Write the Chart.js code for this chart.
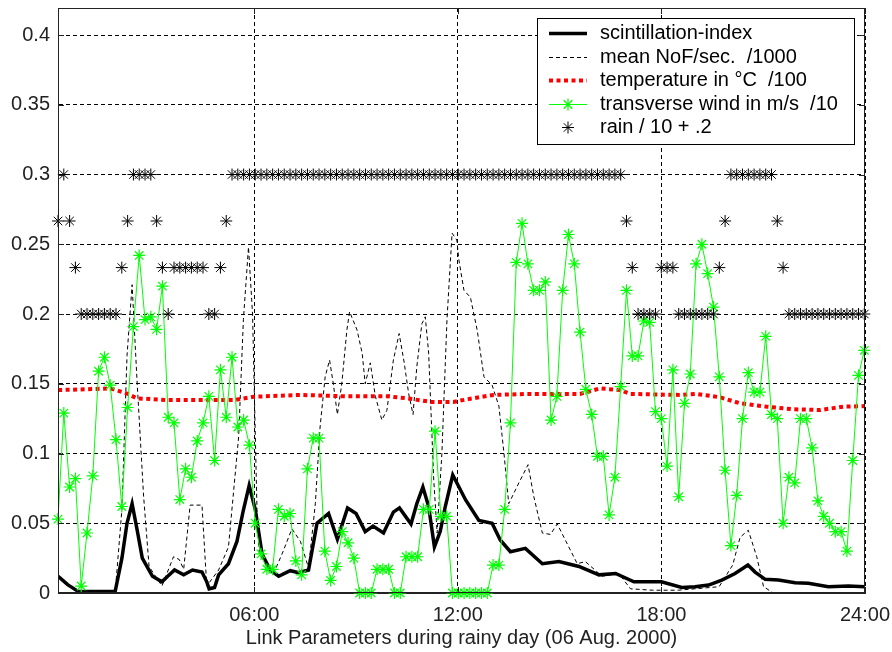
<!DOCTYPE html>
<html>
<head>
<meta charset="utf-8">
<title>Link Parameters during rainy day</title>
<script src="https://cdn.jsdelivr.net/npm/chart.js@4/dist/chart.umd.min.js"></script>
<style>
  html, body { margin: 0; padding: 0; background: #fff; }
  #wrap { width: 892px; height: 652px; }
</style>
</head>
<body>
<div id="wrap"><canvas id="linkChart" width="892" height="652"></canvas></div>
<script>
// time axis (hours of the day)
const dayStart = 0.216;
const dayEnd = 24;
const xTickValues = [6, 12, 18, 24];
const xTickLabels = ['06:00', '12:00', '18:00', '24:00'];
const yTickValues = [0, 0.05, 0.1, 0.15, 0.2, 0.25, 0.3, 0.35, 0.4];
const yTickLabels = ['0', '0.05', '0.1', '0.15', '0.2', '0.25', '0.3', '0.35', '0.4'];

// wind and rain are sampled on the same ~10 min grid
const sampleFirst = 0.216;
const sampleLast = 23.98;

// transverse wind in m/s, already divided by 10
const windScaled = [
  0.053, 0.129, 0.076, 0.082, 0.005, 0.043, 0.084, 0.159, 0.169, 0.149,
  0.110, 0.062, 0.133, 0.191, 0.242, 0.196, 0.198, 0.189, 0.220, 0.126,
  0.122, 0.067, 0.089, 0.083, 0.109, 0.122, 0.141, 0.095, 0.160, 0.126,
  0.169, 0.119, 0.124, 0.106, 0.050, 0.028, 0.017, 0.017, 0.060, 0.055,
  0.057, 0.023, 0.013, 0.089, 0.111, 0.111, 0.030, 0.009, 0.019, 0.044,
  0.036, 0.025, 0, 0, 0, 0.017, 0.017, 0.017, 0, 0,
  0.026, 0.026, 0.026, 0.060, 0.060, 0.116, 0.055, 0.055, 0, 0,
  0, 0, 0, 0, 0, 0.020, 0.020, 0.060, 0.122, 0.237,
  0.265, 0.236, 0.217, 0.217, 0.223, 0.124, 0.141, 0.217, 0.257, 0.236,
  0.187, 0.146, 0.128, 0.098, 0.098, 0.056, 0.083, 0.148, 0.217, 0.170,
  0.170, 0.195, 0.194, 0.130, 0.125, 0.091, 0.160, 0.069, 0.136, 0.157,
  0.236, 0.250, 0.229, 0.205, 0.155, 0.088, 0.034, 0.070, 0.125, 0.158,
  0.144, 0.144, 0.184, 0.128, 0.125, 0.050, 0.083, 0.079, 0.125, 0.125,
  0.104, 0.066, 0.055, 0.050, 0.044, 0.044, 0.030, 0.095, 0.156, 0.174
];

// rain in mm per sample (plotted as rain / 10 + .2)
const rainMm = [
  0.667, 1, 0.667, 0.333, 0, 0, 0, 0, 0, 0,
  0, 0.333, 0.667, 1, 1, 1, 1, 0.667, 0.333, 0,
  0.333, 0.333, 0.333, 0.333, 0.333, 0.333, 0, 0, 0.333, 0.667,
  1, 1, 1, 1, 1, 1, 1, 1, 1, 1,
  1, 1, 1, 1, 1, 1, 1, 1, 1, 1,
  1, 1, 1, 1, 1, 1, 1, 1, 1, 1,
  1, 1, 1, 1, 1, 1, 1, 1, 1, 1,
  1, 1, 1, 1, 1, 1, 1, 1, 1, 1,
  1, 1, 1, 1, 1, 1, 1, 1, 1, 1,
  1, 1, 1, 1, 1, 1, 1, 1, 0.667, 0.333,
  0, 0, 0, 0, 0.333, 0.333, 0.333, 0, 0, 0,
  0, 0, 0, 0, 0.333, 0.667, 1, 1, 1, 1,
  1, 1, 1, 1, 0.667, 0.333, 0, 0, 0, 0,
  0, 0, 0, 0, 0, 0, 0, 0, 0, 0
];

// scintillation index
const scintTimes = [
  0.22, 0.5, 0.82, 1.9, 2.1, 2.25, 2.4, 2.55, 2.7, 3.0,
  3.28, 3.45, 3.65, 3.92, 4.18, 4.46, 4.6, 4.67, 4.83, 4.95,
  5.24, 5.49, 5.68, 5.85, 6.03, 6.23, 6.47, 6.72, 7.06, 7.31,
  7.6, 7.85, 8.19, 8.45, 8.75, 9.0, 9.27, 9.5, 9.81, 10.1,
  10.28, 10.62, 10.79, 10.97, 11.14, 11.31, 11.48, 11.63, 11.85, 12.23,
  12.62, 13.01, 13.25, 13.55, 13.99, 14.49, 14.98, 15.57, 16.16, 16.65,
  17.19, 17.63, 18.0, 18.6, 18.99, 19.39, 19.78, 20.17, 20.55, 20.76,
  21.06, 21.45, 21.94, 22.33, 22.92, 23.51, 24.0
];
const scintValues = [
  0.012, 0.006, 0.001, 0.001, 0.025, 0.05, 0.064, 0.045, 0.025, 0.012,
  0.008, 0.012, 0.0165, 0.013, 0.0165, 0.015, 0.008, 0.003, 0.004, 0.013,
  0.021, 0.037, 0.0595, 0.077, 0.06, 0.028, 0.0165, 0.012, 0.016, 0.0146,
  0.0165, 0.05, 0.057, 0.0385, 0.061, 0.057, 0.044, 0.048, 0.043, 0.058,
  0.061, 0.0495, 0.064, 0.076, 0.062, 0.033, 0.044, 0.062, 0.0846, 0.0667,
  0.052, 0.05, 0.038, 0.0296, 0.032, 0.021, 0.0225, 0.019, 0.013, 0.014,
  0.008, 0.008, 0.008, 0.004, 0.0045, 0.0057, 0.0093, 0.014, 0.02, 0.015,
  0.0098, 0.0093, 0.0074, 0.007, 0.0045, 0.005, 0.0045
];

// mean number of fades per second, already divided by 1000
const nofTimes = [
  0.22, 1.9, 2.1, 2.25, 2.4, 2.55, 2.74, 2.9, 3.28, 3.62,
  3.79, 3.92, 4.11, 4.46, 4.6, 4.95, 5.24, 5.54, 5.68, 5.83,
  5.95, 6.08, 6.15, 6.45, 6.57, 6.82, 7.11, 7.36, 7.6, 7.8,
  7.94, 8.09, 8.22, 8.33, 8.45, 8.58, 8.73, 8.81, 9.03, 9.18,
  9.27, 9.42, 9.57, 9.76, 9.91, 10.1, 10.27, 10.42, 10.55, 10.68,
  10.79, 10.94, 11.04, 11.14, 11.29, 11.39, 11.53, 11.68, 11.83, 11.97,
  12.03, 12.18, 12.37, 12.57, 12.77, 13.01, 13.21, 13.36, 13.5, 13.8,
  14.07, 14.24, 14.49, 14.73, 14.93, 15.27, 15.52, 15.76, 16.25, 16.74,
  17.09, 17.73, 18.5, 19.7, 20.1, 20.32, 20.56, 20.81, 21.01, 21.3,
  24.0
];
const nofScaled = [
  0, 0, 0.06, 0.17, 0.221, 0.15, 0.069, 0.019, 0.005, 0.026,
  0.024, 0.017, 0.063, 0.063, 0.005, 0.0165, 0.033, 0.112, 0.196, 0.248,
  0.2, 0.06, 0.028, 0.0165, 0.014, 0.028, 0.046, 0.037, 0.018, 0.064,
  0.119, 0.155, 0.167, 0.15, 0.128, 0.15, 0.1885, 0.2017, 0.1885, 0.172,
  0.15, 0.165, 0.141, 0.124, 0.131, 0.167, 0.186, 0.165, 0.143, 0.128,
  0.162, 0.193, 0.198, 0.172, 0.081, 0.043, 0.1, 0.196, 0.258, 0.253,
  0.239, 0.217, 0.212, 0.1885, 0.155, 0.149, 0.134, 0.1, 0.064, 0.079,
  0.092, 0.069, 0.043, 0.042, 0.0495, 0.033, 0.021, 0.0225, 0.012, 0.014,
  0.003, 0.002, 0.002, 0.0045, 0.02, 0.04, 0.045, 0.026, 0.0045, 0,
  0
];

// temperature in degC, already divided by 100
const tempTimes = [
  0.22, 1.0, 1.76, 2.25, 2.54, 3.43, 5.39, 5.98, 7.36, 8.73,
  9.91, 10.5, 11.2, 11.87, 12.26, 13.05, 14.03, 15.6, 16.19, 16.78,
  17.08, 18.55, 19.04, 19.73, 20.32, 21.1, 21.89, 22.68, 23.37, 24.0
];
const tempScaled = [
  0.1455, 0.146, 0.1467, 0.143, 0.1396, 0.1383, 0.1383, 0.1407, 0.142, 0.141,
  0.141, 0.1396, 0.137, 0.137, 0.1388, 0.142, 0.1427, 0.1427, 0.1467, 0.1455,
  0.1427, 0.142, 0.1427, 0.1403, 0.136, 0.1336, 0.1317, 0.1312, 0.1336, 0.134
];

const legendLabels = [
  'scintillation-index',
  'mean NoF/sec.  /1000',
  'temperature in °C  /100',
  'transverse wind in m/s  /10',
  'rain / 10 + .2'
];

const FONT = '"Liberation Sans", Arial, Helvetica, sans-serif';
const TEXT = '#222';

function pairs(xs, ys) {
  return ys.map((y, i) => ({ x: xs[i], y: y }));
}
const step = (sampleLast - sampleFirst) / (windScaled.length - 1);
const sampleTimes = windScaled.map((v, i) => sampleFirst + i * step);

function drawStar(ctx, x, y, r, color, lw) {
  ctx.save();
  ctx.strokeStyle = color;
  ctx.lineWidth = lw;
  ctx.setLineDash([]);
  ctx.beginPath();
  for (let k = 0; k < 4; k++) {
    const a = k * Math.PI / 4;
    ctx.moveTo(x - Math.cos(a) * r, y - Math.sin(a) * r);
    ctx.lineTo(x + Math.cos(a) * r, y + Math.sin(a) * r);
  }
  ctx.stroke();
  ctx.restore();
}

// box round the axes, inward tick marks and the legend inside the plot
const frameAndLegend = {
  id: 'frameAndLegend',
  afterDraw(chart) {
    const ctx = chart.ctx;
    const a = chart.chartArea;
    const xs = chart.scales.x, ys = chart.scales.y;
    ctx.save();
    ctx.strokeStyle = TEXT;
    ctx.lineWidth = 1;
    ctx.setLineDash([]);
    ctx.strokeRect(a.left + 0.5, a.top + 0.5, a.right - a.left - 1, a.bottom - a.top - 1);
    ctx.beginPath();
    yTickValues.forEach(v => {
      const py = Math.round(ys.getPixelForValue(v)) + 0.5;
      ctx.moveTo(a.left, py); ctx.lineTo(a.left + 6, py);
      ctx.moveTo(a.right, py); ctx.lineTo(a.right - 6, py);
    });
    xTickValues.forEach(v => {
      const px = Math.round(xs.getPixelForValue(v)) + 0.5;
      ctx.moveTo(px, a.bottom); ctx.lineTo(px, a.bottom - 6);
      ctx.moveTo(px, a.top); ctx.lineTo(px, a.top + 6);
    });
    ctx.stroke();

    // legend
    const bx = 537, by = 18, bw = 317, bh = 126;
    ctx.fillStyle = '#fff';
    ctx.fillRect(bx, by, bw, bh);
    ctx.strokeStyle = '#000';
    ctx.strokeRect(bx + 0.5, by + 0.5, bw, bh);
    const rowY = i => by + 15 + i * 23.5;
    const x1 = 549, x2 = 587, xm = (x1 + x2) / 2;
    chart.data.datasets.forEach((ds, i) => {
      const y = Math.round(rowY(i)) + 0.5;
      if (ds.showLine !== false) {
        ctx.save();
        ctx.strokeStyle = ds.borderColor;
        ctx.lineWidth = ds.borderWidth;
        ctx.setLineDash(ds.borderDash || []);
        ctx.beginPath();
        ctx.moveTo(x1, y); ctx.lineTo(x2, y);
        ctx.stroke();
        ctx.restore();
      }
      if (ds.pointRadius > 0) {
        drawStar(ctx, xm, y, ds.pointRadius, ds.pointBorderColor, ds.pointBorderWidth);
      }
      ctx.fillStyle = '#000';
      ctx.font = '20px ' + FONT;
      ctx.textBaseline = 'middle';
      ctx.textAlign = 'left';
      ctx.fillText(legendLabels[i], 600, y);
    });
    ctx.restore();
  }
};

Chart.defaults.font.family = FONT;
Chart.defaults.font.size = 20;
Chart.defaults.color = TEXT;

new Chart(document.getElementById('linkChart').getContext('2d'), {
  type: 'line',
  data: {
    datasets: [{
      label: legendLabels[0],
      data: pairs(scintTimes, scintValues),
      borderColor: '#000',
      borderWidth: 3.5,
      pointRadius: 0,
      fill: false,
      order: 5
    }, {
      label: legendLabels[1],
      data: pairs(nofTimes, nofScaled),
      borderColor: '#000',
      borderWidth: 1,
      borderDash: [4, 3],
      pointRadius: 0,
      fill: false,
      order: 4
    }, {
      label: legendLabels[2],
      data: pairs(tempTimes, tempScaled),
      borderColor: '#ff0000',
      borderWidth: 4,
      borderDash: [4, 3.5],
      pointRadius: 0,
      fill: false,
      order: 3
    }, {
      label: legendLabels[3],
      data: pairs(sampleTimes, windScaled),
      borderColor: '#00ff00',
      borderWidth: 1,
      pointStyle: 'star',
      pointRadius: 6,
      pointBorderColor: '#00ff00',
      pointBackgroundColor: '#00ff00',
      pointBorderWidth: 1.2,
      fill: false,
      clip: false,
      order: 2
    }, {
      label: legendLabels[4],
      data: pairs(sampleTimes, rainMm.map(r => r / 10 + 0.2)),
      showLine: false,
      borderColor: '#000',
      pointStyle: 'star',
      pointRadius: 6,
      pointBorderColor: '#000',
      pointBackgroundColor: '#000',
      pointBorderWidth: 1,
      clip: false,
      order: 1
    }]
  },
  options: {
    responsive: false,
    animation: false,
    devicePixelRatio: 1,
    layout: { padding: { left: 0, right: 27, top: 8, bottom: 0 } },
    plugins: {
      legend: { display: false },
      tooltip: { enabled: false }
    },
    elements: { line: { tension: 0 } },
    scales: {
      x: {
        type: 'linear',
        min: dayStart,
        max: dayEnd,
        afterBuildTicks: s => { s.ticks = xTickValues.map(v => ({ value: v })); },
        afterFit: s => { s.height = 59; s.paddingLeft = 0; s.paddingRight = 0; },
        ticks: {
          callback: (v, i) => xTickLabels[i],
          color: TEXT,
          padding: 10,
          maxRotation: 0,
          autoSkip: false,
          font: { size: 20 }
        },
        grid: { color: '#000', lineWidth: 1, drawTicks: false },
        border: { display: true, color: TEXT, dash: [4, 3] },
        title: {
          display: true,
          text: 'Link Parameters during rainy day (06 Aug. 2000)',
          color: TEXT,
          font: { size: 20 },
          padding: { top: 0, bottom: 2 }
        }
      },
      y: {
        type: 'linear',
        min: 0,
        max: 0.4194,
        afterBuildTicks: s => { s.ticks = yTickValues.map(v => ({ value: v })); },
        afterFit: s => { s.width = 58; s.paddingTop = 0; s.paddingBottom = 0; },
        ticks: {
          callback: (v, i) => yTickLabels[i],
          color: TEXT,
          padding: 8,
          autoSkip: false,
          font: { size: 20 }
        },
        grid: { color: '#000', lineWidth: 1, drawTicks: false },
        border: { display: true, color: TEXT, dash: [4, 3] }
      }
    }
  },
  plugins: [frameAndLegend]
});
</script>
</body>
</html>
